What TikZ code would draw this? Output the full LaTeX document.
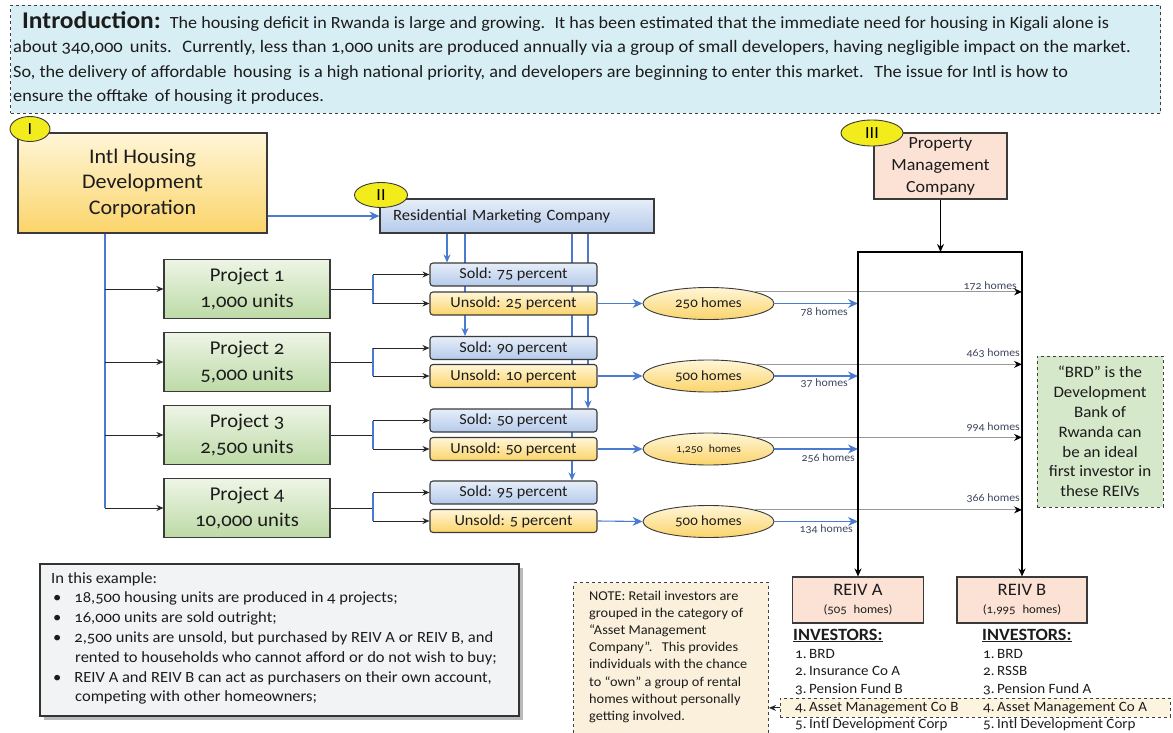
\documentclass[tikz,border=0pt]{standalone}
\usepackage{fontspec}
\setmainfont{Carlito}[Numbers=OldStyle,FakeStretch=1.06]
\usetikzlibrary{arrows.meta,shapes.geometric,shadows,backgrounds}
\newcommand\myfs[2]{\fontsize{#1}{#2}\selectfont}
\definecolor{introfill}{HTML}{D8EEF5}
\definecolor{dashc}{HTML}{404040}
\definecolor{lbl}{HTML}{F2EC1C}
\definecolor{boxline}{HTML}{3A3A3A}
\definecolor{blueln}{HTML}{4A7BD0}
\definecolor{ytop}{HTML}{FFF6D8}
\definecolor{ybot}{HTML}{FBD46A}
\definecolor{btop}{HTML}{E6EEF9}
\definecolor{bbot}{HTML}{B5CAEA}
\definecolor{gtop}{HTML}{EEF5E6}
\definecolor{gbot}{HTML}{BCDAA6}
\definecolor{pmfill}{HTML}{FBE2D5}
\definecolor{brdfill}{HTML}{D6E8CA}
\definecolor{notefill}{HTML}{FAF0DC}
\definecolor{hlfill}{HTML}{FDF4DF}
\definecolor{exfill}{HTML}{F2F3F5}
\definecolor{txtc}{HTML}{1C1C1C}
\definecolor{smallc}{HTML}{3E4760}
\begin{document}
\begin{tikzpicture}[x=1pt,y=-1pt,
 bx/.style={draw=boxline,line width=1.1pt,inner sep=0pt,align=center,text=txtc},
 introbox/.style={draw=dashc,dashed,line width=1pt,fill=introfill},
 tag/.style={ellipse,draw=boxline,line width=0.9pt,fill=lbl,inner sep=0pt,font=\myfs{17}{17}},
 ybox/.style={bx,top color=ytop,bottom color=ybot},
 bbox/.style={bx,top color=btop,bottom color=bbot},
 gbox/.style={bx,top color=gtop,bottom color=gbot},
 sbox/.style={bbox,rounded corners=3pt,minimum width=167pt,minimum height=23pt,font=\myfs{15.3}{15}},
 ubox/.style={ybox,rounded corners=3pt,minimum width=167pt,minimum height=23pt,font=\myfs{15.3}{15}},
 pbox/.style={gbox,minimum width=166pt,minimum height=59pt,font=\myfs{19.5}{26}},
 hell/.style={ellipse,draw=boxline,line width=0.9pt,top color=ytop,bottom color=ybot,minimum width=131pt,minimum height=32pt,inner sep=0pt,font=\myfs{14}{14},text=txtc},
 bl/.style={draw=blueln,line width=1.1pt},
 blarr/.style={bl,-{Stealth[length=10pt,width=9pt]}},
 bldrop/.style={bl,-{Stealth[length=8pt,width=7pt]}},
 bkarr/.style={draw=black!85,line width=1pt,-{Stealth[length=7pt,width=6pt]}},
 grarr/.style={draw=gray!80,line width=1.1pt,-{Stealth[length=8pt,width=7pt,color=black]}},
 rframe/.style={draw=black,line width=1.8pt},
 txt/.style={inner sep=0pt,text=txtc},
 homelbl/.style={txt,font=\myfs{11.2}{11},text=smallc},
]
\useasboundingbox (0,0) rectangle (1173,733);

% Introduction
\node[introbox,anchor=north west,minimum width=1150pt,minimum height=108pt] (intro) at (10,5) {};
\node[txt,anchor=base west,font=\myfs{17.1}{18}] (il1) at (22,29) {{\bfseries\myfs{24}{24}Introduction:}\hspace{9pt}The housing deficit in Rwanda is large and growing.\hspace{4pt} It has been estimated that the immediate need for housing in Kigali alone is};
\node[txt,anchor=base west,font=\myfs{17.5}{18}] (il2) at (13,53) {about 340,000\, units.\hspace{5pt} Currently, less than 1,000 units are produced annually via a group of small developers, having negligible impact on the market.};
\node[txt,anchor=base west,font=\myfs{17.2}{18}] (il3) at (13,78) {So, the delivery of affordable\, housing\, is a high national priority, and developers are beginning to enter this market.\hspace{5pt} The issue for Intl is how to};
\node[txt,anchor=base west,font=\myfs{17.2}{18}] (il4) at (13,102) {ensure the offtake\, of housing it produces.};

% I
\node[ybox,minimum width=249pt,minimum height=100pt,font=\myfs{20.8}{25.5}] (I) at (142.5,183) {Intl Housing\\Development\\Corporation};
\node[tag,minimum width=40pt,minimum height=25pt] (tI) at (30,129) {I};

% II
\node[bbox,minimum height=34pt,text width=248pt,inner xsep=13pt,align=left,font=\myfs{15.7}{15}] (rmc) at (517,216) {Residential Marketing Company};
\node[tag,minimum width=53pt,minimum height=25pt] (tII) at (381,195) {II};

% projects
\node[pbox] (p1) at (247,289) {Project 1\\1,000 units};
\node[pbox] (p2) at (247,362) {Project 2\\5,000 units};
\node[pbox] (p3) at (247,435) {Project 3\\2,500 units};
\node[pbox] (p4) at (247,508) {Project 4\\10,000 units};

% sold / unsold
\node[sbox] (s1) at (513.5,274.5) {Sold: 75 percent};
\node[ubox] (u1) at (513.5,303.5) {Unsold: 25 percent};
\node[sbox] (s2) at (513.5,348) {Sold: 90 percent};
\node[ubox] (u2) at (513.5,376) {Unsold: 10 percent};
\node[sbox] (s3) at (513.5,420.5) {Sold: 50 percent};
\node[ubox] (u3) at (513.5,449) {Unsold: 50 percent};
\node[sbox] (s4) at (513.5,492.5) {Sold: 95 percent};
\node[ubox] (u4) at (513.5,521) {Unsold: 5 percent};

% homes ellipses
\node[hell] (e1) at (708.5,303.5) {250 homes};
\node[hell] (e2) at (708.5,376) {500 homes};
\node[hell,font=\myfs{11}{11}] (e3) at (708.5,449) {1,250\,\, homes};
\node[hell] (e4) at (708.5,521.5) {500 homes};

% III
\node[bx,fill=pmfill,minimum width=133pt,minimum height=66pt,font=\myfs{17}{22}] (pm) at (940.5,166) {Property\\Management\\Company};
\node[tag,minimum width=62pt,minimum height=26pt] (tIII) at (872,133) {III};

% REIV boxes
\node[bx,fill=pmfill,minimum width=131pt,minimum height=46pt,font=\myfs{17.5}{19}] (reivA) at (858,600) {REIV A\\[-1pt]{\myfs{12}{12}(505\,\, homes)}};
\node[bx,fill=pmfill,minimum width=130pt,minimum height=46pt,font=\myfs{17.5}{19}] (reivB) at (1022,600) {REIV B\\[-1pt]{\myfs{12}{12}(1,995\,\, homes)}};
\coordinate (ctop) at (940,252);

% BRD note
\node[draw=dashc,dashed,line width=1pt,fill=brdfill,minimum width=126pt,minimum height=151pt,inner sep=0pt,align=center,text=txtc,font=\myfs{16}{19.8}] (brd) at (1100,431.5) {“BRD” is the\\Development\\Bank of\\Rwanda can\\be an ideal\\first investor in\\these REIVs};

% example box
\node[draw=black!80,line width=1.6pt,fill=exfill,drop shadow={shadow xshift=4pt,shadow yshift=-4pt,opacity=0.5,fill=black!55},minimum width=479pt,minimum height=152pt,anchor=north west] (ex) at (39,563) {};
\begin{scope}[every node/.style={txt,anchor=base west,font=\myfs{15.6}{18}}]
\node (x0) at (51,583) {In this example:};
\node (x1) at (53,602.8) {\textbullet\hspace{13pt}18,500 housing units are produced in 4 projects;};
\node (x2) at (53,622.6) {\textbullet\hspace{13pt}16,000 units are sold outright;};
\node (x3) at (53,642.4) {\textbullet\hspace{13pt}2,500 units are unsold, but purchased by REIV A or REIV B, and};
\node (x4) at (75,662.2) {rented to households who cannot afford or do not wish to buy;};
\node (x5) at (53,682) {\textbullet\hspace{13pt}REIV A and REIV B can act as purchasers on their own account,};
\node (x6) at (75,701.8) {competing with other homeowners;};
\end{scope}

% note box
\node[draw=dashc,dashed,line width=1pt,fill=notefill,minimum width=195pt,minimum height=165pt,anchor=north west] (note) at (573,582) {};
\begin{scope}[every node/.style={txt,anchor=base west,font=\myfs{13.5}{15}}]
\node (n1) at (589,600) {NOTE: Retail investors are};
\node (n2) at (589,617.2) {grouped in the category of};
\node (n3) at (589,634.4) {“Asset Management};
\node (n4) at (589,651.6) {Company”.\hspace{5pt} This provides};
\node (n5) at (589,668.8) {individuals with the chance};
\node (n6) at (589,686) {to “own” a group of rental};
\node (n7) at (589,703.2) {homes without personally};
\node (n8) at (589,720.4) {getting involved.};
\end{scope}

% highlight row
\node[draw=dashc,dashed,line width=0.8pt,fill=hlfill,minimum width=390pt,minimum height=19pt,anchor=north west] (hl) at (780,698) {};

% investors
\node[txt,anchor=base west,font=\bfseries\myfs{17.2}{17}] (invA) at (793,640) {\underline{INVESTORS:}};
\node[txt,anchor=base west,font=\bfseries\myfs{17.2}{17}] (invB) at (982,640) {\underline{INVESTORS:}};
\foreach \t [count=\k] in {BRD,Insurance Co A,Pension Fund B,Asset Management Co B,Intl Development Corp}{
  \node[txt,anchor=base west,font=\myfs{14.2}{15}] (a\k) at (795,640.3+17.7*\k) {\makebox[14pt][l]{\k.}\t};
}
\foreach \t [count=\k] in {BRD,RSSB,Pension Fund A,Asset Management Co A,Intl Development Corp}{
  \node[txt,anchor=base west,font=\myfs{14.2}{15}] (b\k) at (983,640.3+17.7*\k) {\makebox[14pt][l]{\k.}\t};
}
\draw[bkarr] (hl.west) -- (hl.west -| note.east);

% home labels
\node[homelbl,anchor=east] (la1) at (848,312) {78 homes};
\node[homelbl,anchor=east] (la2) at (848,383) {37 homes};
\node[homelbl,anchor=east] (la3) at (855,458) {256 homes};
\node[homelbl,anchor=east] (la4) at (853,529) {134 homes};
\node[homelbl,anchor=east] (lb1) at (1017,286) {172 homes};
\node[homelbl,anchor=east] (lb2) at (1020,353) {463 homes};
\node[homelbl,anchor=east] (lb3) at (1020,427) {994 homes};
\node[homelbl,anchor=east] (lb4) at (1020,498) {366 homes};

% coordinates for vertical lines
\coordinate (tk) at (105,0);
\coordinate (bk) at (373,0);
\coordinate (d1) at (447,0);
\coordinate (d2) at (465,0);
\coordinate (d3) at (572,0);
\coordinate (d4) at (588,0);

\begin{scope}[on background layer]
\draw[bldrop] (rmc.south -| d1) -- (s1.north -| d1);
\draw[bldrop] (rmc.south -| d2) -- (s2.north -| d2);
\draw[bldrop] (rmc.south -| d4) -- (s3.north -| d4);
\draw[bldrop] (rmc.south -| d3) -- (s4.north -| d3);
\end{scope}

\draw[blarr] (rmc.west -| I.east) -- (rmc.west);
\draw[bl] (I.south -| tk) -- (p4.west -| tk);
\foreach \p in {p1,p2,p3,p4}{ \draw[bkarr] (\p.west -| tk) -- (\p.west); }

\foreach \p/\s/\u/\e in {p1/s1/u1/e1,p2/s2/u2/e2,p3/s3/u3/e3,p4/s4/u4/e4}{
  \draw[draw=black!85,line width=1pt] (\p.east) -- (\p.east -| bk);
  \draw[bl] (\s.west -| bk) -- (\u.west -| bk);
  \draw[bkarr] (\s.west -| bk) -- (\s.west);
  \draw[bkarr] (\u.west -| bk) -- (\u.west);
  \draw[blarr] (\u.east) -- (\e.west);
  \draw[grarr] (\e.14) -- (\e.14 -| reivB.north);
  \draw[blarr] (\e.east) -- (\e.east -| reivA.north);
}

% REIV frame
\draw[rframe,-{Stealth[length=8pt,width=7pt]}] (pm.south) -- (pm.south |- ctop);
\draw[rframe,{Stealth[length=8pt,width=7pt]}-{Stealth[length=8pt,width=7pt]}] (reivA.north) -- (reivA.north |- ctop) -- (reivB.north |- ctop) -- (reivB.north);
\end{tikzpicture}
\end{document}
